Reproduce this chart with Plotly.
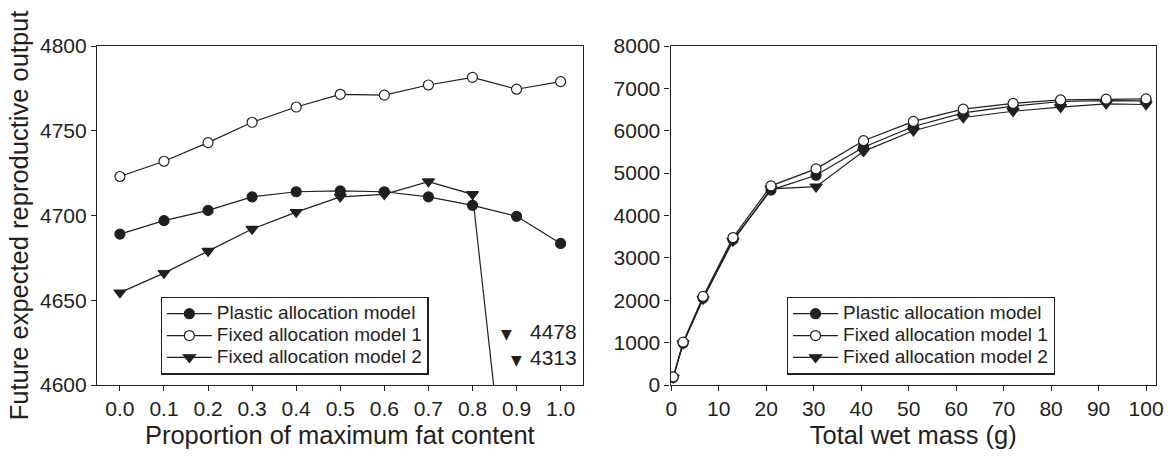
import plotly.graph_objects as go

# ---------------- data ----------------
fat_prop = [0.0, 0.1, 0.2, 0.3, 0.4, 0.5, 0.6, 0.7, 0.8, 0.9, 1.0]
fat_plastic = [4689, 4697, 4703, 4711, 4714, 4714.5, 4714, 4711, 4706, 4699.5, 4683.5]
fat_fixed1 = [4723, 4732, 4743, 4755, 4764, 4771.5, 4771, 4777, 4781.5, 4774.5, 4779]
fat_fixed2 = [4654.5, 4666, 4679, 4692, 4702, 4711, 4712.5, 4720, 4712.5, 4478, 4313]

mass_g = [0.4, 2.5, 6.7, 13, 21, 30.5, 40.5, 51, 61.5, 72, 82, 91.6, 100]
mass_plastic = [180, 990, 2050, 3430, 4600, 4950, 5610, 6100, 6420, 6580, 6690, 6713, 6706]
mass_fixed1 = [190, 1010, 2090, 3480, 4700, 5100, 5765, 6220, 6510, 6645, 6729, 6745, 6753]
mass_fixed2 = [170, 980, 2030, 3400, 4630, 4680, 5513, 6000, 6313, 6460, 6557, 6635, 6620]

series_names = ["Plastic allocation model", "Fixed allocation model 1", "Fixed allocation model 2"]
fat_ticks = [0.0, 0.1, 0.2, 0.3, 0.4, 0.5, 0.6, 0.7, 0.8, 0.9, 1.0]
mass_ticks = [0, 10, 20, 30, 40, 50, 60, 70, 80, 90, 100]

# ---------------- style ----------------
INK = "#231f20"
FONT = "Liberation Sans, Arial, Helvetica, sans-serif"
LW = 1.2
TICK_FS = 21
TITLE_FS = 25.5
LEGEND_TEXT_FS = 19

styles = {
    series_names[0]: dict(symbol="circle", color=INK, rank=1),
    series_names[1]: dict(symbol="circle", color="white", rank=2),
    series_names[2]: dict(symbol="triangle-down", color=INK, rank=3),
}

fig = go.Figure()

def add(x, y, name, xa, ya, legend):
    st = styles[name]
    fig.add_trace(go.Scatter(
        x=x, y=y, name=f'<span style="font-size:{LEGEND_TEXT_FS}px">{name}</span>',
        mode="lines+markers",
        xaxis=xa, yaxis=ya, legend=legend, legendrank=st["rank"],
        line=dict(color=INK, width=LW),
        marker=dict(symbol=st["symbol"], size=10 if st["symbol"] == "circle" else 10.5,
                    color=st["color"], line=dict(color=INK, width=LW)),
    ))

# draw order: fixed 2, plastic, fixed 1 (open circles on top)
for xa, ya, lg, x, ys in [
    ("x", "y", "legend", fat_prop, [fat_plastic, fat_fixed1, fat_fixed2]),
    ("x2", "y2", "legend2", mass_g, [mass_plastic, mass_fixed1, mass_fixed2]),
]:
    add(x, ys[2], series_names[2], xa, ya, lg)
    add(x, ys[0], series_names[0], xa, ya, lg)
    add(x, ys[1], series_names[1], xa, ya, lg)

axis_common = dict(
    showline=True, mirror=True, linecolor=INK, linewidth=LW,
    ticks="outside", ticklen=5, tickwidth=LW, tickcolor=INK,
    showgrid=False, zeroline=False,
    tickfont=dict(family=FONT, size=TICK_FS, color=INK),
    title_font=dict(family=FONT, size=TITLE_FS, color=INK),
)

legend_common = dict(
    y=0.2609, xanchor="left", yanchor="top",
    bordercolor=INK, borderwidth=LW, bgcolor="white",
    font=dict(family=FONT, size=14.5, color=INK), tracegroupgap=0,
    itemwidth=45,
)

fig.update_layout(
    width=1176, height=456,
    margin=dict(l=97, r=15, t=46, b=70),
    paper_bgcolor="white", plot_bgcolor="white",
    font=dict(family=FONT, color=INK),
    xaxis=dict(domain=[0, 0.4586], range=[-0.052, 1.05], tickvals=fat_ticks,
               tickformat=".1f", title=dict(text="Proportion of maximum fat content", standoff=6),
               anchor="y", **axis_common),
    yaxis=dict(range=[4600, 4800], dtick=50, anchor="x",
               title=dict(text="Future expected reproductive output", standoff=4),
               **axis_common),
    xaxis2=dict(domain=[0.5416, 1], range=[-0.15, 102.1], tickvals=mass_ticks,
                title=dict(text="Total wet mass (g)", standoff=6), anchor="y2", **axis_common),
    yaxis2=dict(range=[0, 8000], dtick=1000, anchor="x2", **axis_common),
    legend=dict(x=0.0601, **legend_common),
    legend2=dict(x=0.6514, **legend_common),
    showlegend=True,
)

# off-scale values of fixed allocation model 2
offscale = [(0.877, 4630, 1.042, 4631.5, fat_fixed2[9]), (0.90, 4615, 1.042, 4616.3, fat_fixed2[10])]
for tx, ty, lx, ly, val in offscale:
    fig.add_annotation(x=tx, y=ty, xref="x", yref="y", text="▼", showarrow=False,
                       font=dict(family="DejaVu Sans", size=14, color=INK),
                       xanchor="center", yanchor="middle")
    fig.add_annotation(x=lx, y=ly, xref="x", yref="y", text=f"{val:.0f}", showarrow=False,
                       font=dict(family=FONT, size=TICK_FS, color=INK),
                       xanchor="right", yanchor="middle")

fig.write_html("out.html")
